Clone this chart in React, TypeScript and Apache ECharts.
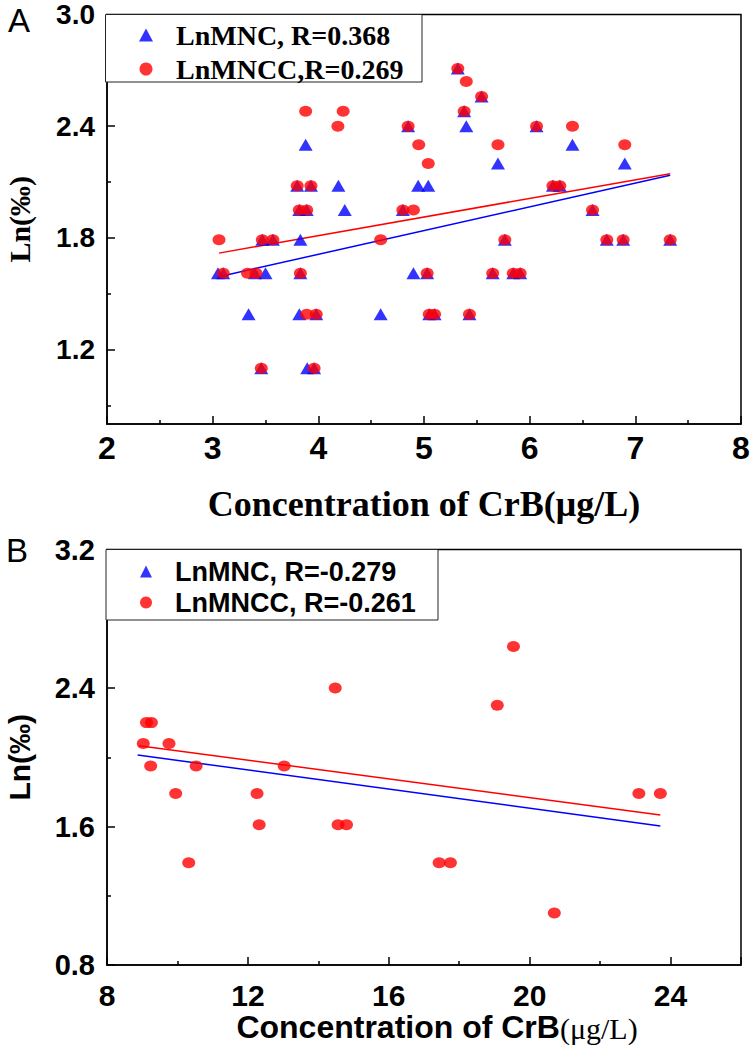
import React, { useEffect, useRef } from "react";
import * as echarts from "echarts";

// ---------- Panel A data (x: CrB µg/L, y: Ln(‰)) ----------
const nameMncA = "LnMNC, R=0.368";
const nameMnccA = "LnMNCC,R=0.269";
const mncA: [number, number][] = [
  [5.32, 2.71], [5.545, 2.56], [5.38, 2.48],
  [4.85, 2.4], [5.4, 2.4], [6.065, 2.4],
  [3.88, 2.3], [6.405, 2.3],
  [5.7, 2.2], [6.9, 2.2],
  [3.8, 2.08], [3.93, 2.08], [4.19, 2.08], [4.945, 2.08], [5.04, 2.08], [6.22, 2.08], [6.285, 2.08],
  [3.82, 1.95], [3.89, 1.95], [4.25, 1.95], [4.8, 1.95], [6.595, 1.95],
  [3.47, 1.79], [3.57, 1.79], [3.83, 1.79], [5.765, 1.79], [6.73, 1.79], [6.885, 1.79], [7.33, 1.79],
  [3.05, 1.61], [3.1, 1.61], [3.4, 1.61], [3.5, 1.61], [3.83, 1.61], [4.9, 1.61], [5.03, 1.61], [5.65, 1.61], [5.845, 1.61], [5.91, 1.61],
  [3.34, 1.39], [3.82, 1.39], [3.98, 1.39], [4.59, 1.39], [5.05, 1.39], [5.1, 1.39], [5.43, 1.39],
  [3.46, 1.1], [3.895, 1.1], [3.96, 1.1],
];
const mnccA: [number, number][] = [
  [5.32, 2.71], [5.4, 2.64], [5.545, 2.56],
  [3.88, 2.48], [4.235, 2.48], [5.38, 2.48],
  [4.185, 2.4], [4.85, 2.4], [6.065, 2.4], [6.405, 2.4],
  [4.95, 2.3], [5.7, 2.3], [6.9, 2.3],
  [5.04, 2.2],
  [3.8, 2.08], [3.93, 2.08], [6.22, 2.08], [6.285, 2.08],
  [3.82, 1.95], [3.89, 1.95], [4.8, 1.95], [4.9, 1.95], [6.595, 1.95],
  [3.06, 1.79], [3.47, 1.79], [3.57, 1.79], [4.59, 1.79], [5.765, 1.79], [6.73, 1.79], [6.885, 1.79], [7.33, 1.79],
  [3.1, 1.61], [3.33, 1.61], [3.41, 1.61], [3.83, 1.61], [5.03, 1.61], [5.65, 1.61], [5.845, 1.61], [5.91, 1.61],
  [3.89, 1.39], [3.98, 1.39], [5.05, 1.39], [5.1, 1.39], [5.43, 1.39],
  [3.46, 1.1], [3.96, 1.1],
];
const fitMncA: [number, number][] = [[3.07, 1.593], [7.33, 2.136]];
const fitMnccA: [number, number][] = [[3.06, 1.718], [7.33, 2.145]];
const yLabelsA = [1.2, 1.8, 2.4, 3.0];
const yMinorA = [0.9, 1.5, 2.1, 2.7];

// ---------- Panel B data ----------
const nameMncB = "LnMNC, R=-0.279";
const nameMnccB = "LnMNCC, R=-0.261";
const mncB: [number, number][] = [];
const mnccB: [number, number][] = [
  [9.03, 2.08], [9.12, 2.2], [9.26, 2.2], [9.76, 2.08], [9.24, 1.95], [10.53, 1.95], [13.03, 1.95],
  [9.95, 1.79], [12.26, 1.79], [12.32, 1.61], [14.56, 1.61], [14.8, 1.61], [10.32, 1.39],
  [14.48, 2.4], [19.54, 2.64], [19.08, 2.3], [23.1, 1.79], [23.71, 1.79],
  [17.43, 1.39], [17.75, 1.39], [20.7, 1.1],
];
const fitMncB: [number, number][] = [[8.87, 2.013], [23.71, 1.603]];
const fitMnccB: [number, number][] = [[8.91, 2.067], [23.71, 1.666]];

const sans = "'Liberation Sans', Arial, sans-serif";
const serif = "'Liberation Serif', 'Times New Roman', serif";
const BLUE = "#0000ff";
const RED = "#ff0000";

export default function App() {
  const ref = useRef<HTMLDivElement>(null);
  useEffect(() => {
    document.body.style.margin = "0";
    const chart = echarts.init(ref.current!, null, { renderer: "svg" });
    const axisLine = { show: true, lineStyle: { color: "#000", width: 1.5 } };
    const tick = (len: number, extra: any = {}) => ({
      show: true, inside: true, length: len, lineStyle: { color: "#000", width: 1.5 }, ...extra,
    });
    const minor = { show: true, splitNumber: 2, length: 4, lineStyle: { color: "#000", width: 1.5 } };
    const lab = (size: number, margin: number, extra: any = {}) => ({
      color: "#000", fontFamily: sans, fontWeight: "bold", fontSize: size, margin, ...extra,
    });
    chart.setOption({
      animation: false,
      backgroundColor: "#fff",
      grid: [
        { left: 107, top: 14.5, width: 634, height: 409.5, show: true, borderColor: "#000", borderWidth: 1.5, containLabel: false, outerBoundsMode: "none" },
        { left: 107, top: 549.5, width: 634, height: 415.5, show: true, borderColor: "#000", borderWidth: 1.5, containLabel: false, outerBoundsMode: "none" },
      ],
      xAxis: [
        {
          type: "value", gridIndex: 0, min: 2, max: 8, interval: 1,
          axisLine, axisTick: tick(8), minorTick: minor, splitLine: { show: false },
          axisLabel: lab(32, 8),
          name: "Concentration of CrB(μg/L)", nameLocation: "middle", nameGap: 62,
          nameTextStyle: { color: "#000", fontFamily: serif, fontWeight: "bold", fontSize: 36 },
        },
        {
          type: "value", gridIndex: 1, min: 8, max: 26, interval: 4,
          axisLine, axisTick: tick(8), minorTick: minor, splitLine: { show: false },
          axisLabel: lab(30, 15, { showMaxLabel: false }),
          name: "{a|Concentration of CrB}{b|(μg/L)}", nameLocation: "middle", nameGap: 44,
          nameTextStyle: {
            color: "#000",
            padding: [0, 0, 0, 26],
            rich: {
              a: { fontFamily: sans, fontWeight: "bold", fontSize: 32, color: "#000" },
              b: { fontFamily: serif, fontSize: 30, color: "#000", padding: [4, 0, 0, 0] },
            },
          },
        },
      ],
      yAxis: [
        {
          type: "value", gridIndex: 0, min: 0.8, max: 3.0, position: "left",
          axisLine, splitLine: { show: false },
          axisTick: tick(8, { customValues: yLabelsA }),
          axisLabel: lab(28, 12, { customValues: yLabelsA, formatter: (v: number) => v.toFixed(1) }),
          name: "Ln(‰)", nameLocation: "middle", nameRotate: 90, nameGap: 73,
          nameTextStyle: { color: "#000", fontFamily: serif, fontWeight: "bold", fontSize: 30 },
        },
        {
          type: "value", gridIndex: 0, min: 0.8, max: 3.0, position: "left",
          axisLine: { show: false }, splitLine: { show: false },
          axisTick: tick(4, { customValues: yMinorA }),
          axisLabel: { show: false },
        },
        {
          type: "value", gridIndex: 1, min: 0.8, max: 3.2, interval: 0.8, position: "left",
          axisLine, axisTick: tick(8), minorTick: minor, splitLine: { show: false },
          axisLabel: lab(29, 12, { formatter: (v: number) => v.toFixed(1) }),
          name: "Ln(‰)", nameLocation: "middle", nameRotate: 90, nameGap: 73,
          nameTextStyle: { color: "#000", fontFamily: sans, fontWeight: "bold", fontSize: 30 },
        },
      ],
      legend: [
        {
          data: [nameMncA, nameMnccA], orient: "vertical", left: 139, top: 21, z: 20,
          itemWidth: 14, itemHeight: 13, itemGap: 6, padding: 0, selectedMode: false,
          textStyle: { fontFamily: serif, fontWeight: "bold", fontSize: 28, color: "#000", lineHeight: 26, padding: [0, 0, 0, 18] },
        },
        {
          data: [nameMncB, nameMnccB], orient: "vertical", left: 140, top: 558, z: 20,
          itemWidth: 12, itemHeight: 12, itemGap: 4, padding: 0, selectedMode: false,
          textStyle: { fontFamily: sans, fontWeight: "bold", fontSize: 27, color: "#000", lineHeight: 26, padding: [0, 0, 0, 18] },
        },
      ],
      graphic: [
        { type: "rect", z: 15, shape: { x: 105.5, y: 14.5, width: 316.5, height: 67.5 }, style: { fill: "#fff", stroke: "#222", lineWidth: 1 } },
        { type: "rect", z: 15, shape: { x: 106, y: 549.5, width: 332, height: 70.5 }, style: { fill: "#fff", stroke: "#222", lineWidth: 1 } },
        { type: "text", z: 20, left: 8, top: 4, style: { text: "A", fontFamily: sans, fontSize: 33, fill: "#000" } },
        { type: "text", z: 20, left: 6, top: 534, style: { text: "B", fontFamily: sans, fontSize: 33, fill: "#000" } },
      ],
      series: [
        { type: "line", name: "fitMncA", xAxisIndex: 0, yAxisIndex: 0, data: fitMncA, showSymbol: false, symbol: "none", lineStyle: { color: BLUE, width: 1.5 }, z: 2 },
        { type: "line", name: "fitMnccA", xAxisIndex: 0, yAxisIndex: 0, data: fitMnccA, showSymbol: false, symbol: "none", lineStyle: { color: RED, width: 1.5 }, z: 2 },
        { type: "scatter", name: nameMncA, xAxisIndex: 0, yAxisIndex: 0, data: mncA, symbol: "triangle", symbolSize: [14, 12], itemStyle: { color: BLUE }, z: 3 },
        { type: "scatter", name: nameMnccA, xAxisIndex: 0, yAxisIndex: 0, data: mnccA, symbol: "circle", symbolSize: [13, 11], itemStyle: { color: RED }, z: 4 },
        { type: "line", name: "fitMncB", xAxisIndex: 1, yAxisIndex: 2, data: fitMncB, showSymbol: false, symbol: "none", lineStyle: { color: BLUE, width: 1.5 }, z: 2 },
        { type: "line", name: "fitMnccB", xAxisIndex: 1, yAxisIndex: 2, data: fitMnccB, showSymbol: false, symbol: "none", lineStyle: { color: RED, width: 1.5 }, z: 2 },
        { type: "scatter", name: nameMncB, xAxisIndex: 1, yAxisIndex: 2, data: mncB, symbol: "triangle", symbolSize: [12, 11], itemStyle: { color: BLUE }, z: 3 },
        { type: "scatter", name: nameMnccB, xAxisIndex: 1, yAxisIndex: 2, data: mnccB, symbol: "circle", symbolSize: [13, 11], itemStyle: { color: RED }, z: 4 },
      ],
    });
    return () => chart.dispose();
  }, []);
  return <div ref={ref} style={{ width: 750, height: 1047 }} />;
}
